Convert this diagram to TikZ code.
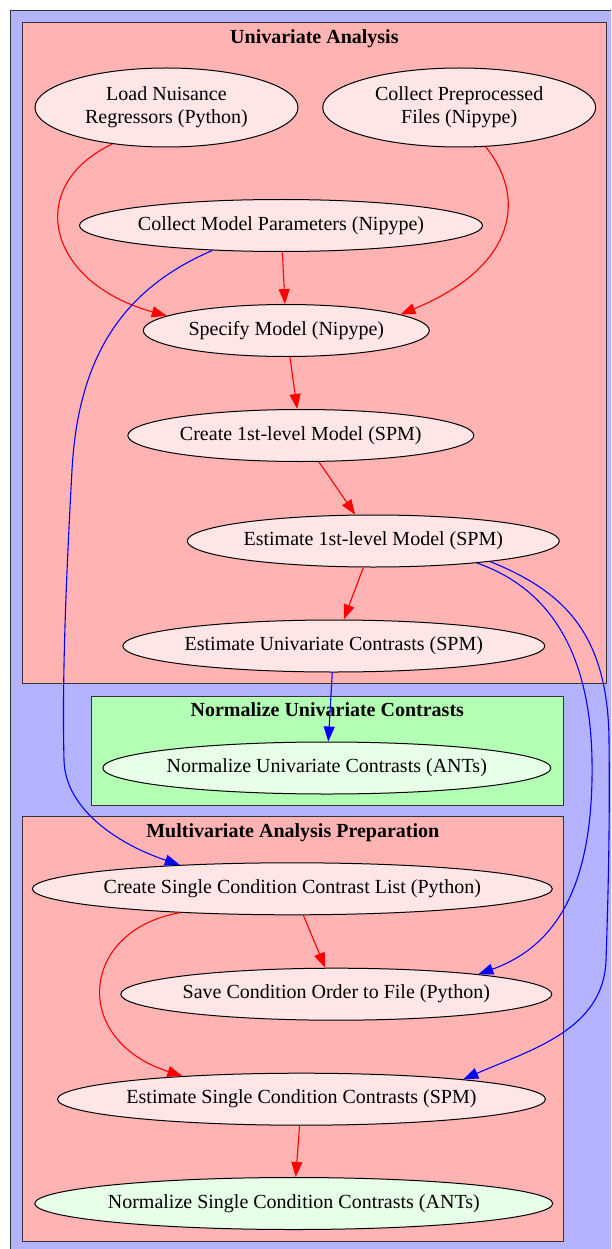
\documentclass[tikz,border=0pt]{standalone}
\usepackage{fontspec}
\setmainfont{Liberation Serif}
\usetikzlibrary{shapes.geometric,arrows.meta}
\definecolor{outerblue}{RGB}{179,179,255}
\definecolor{clpink}{RGB}{255,179,179}
\definecolor{clgreen}{RGB}{179,255,179}
\definecolor{ndpink}{RGB}{255,230,230}
\definecolor{ndgreen}{RGB}{230,255,230}
\tikzset{
  nd/.style={ellipse,draw=black,line width=1pt,fill=ndpink,inner xsep=-40pt,inner ysep=0pt,
    font=\fontsize{20}{23}\selectfont,align=center,minimum height=52pt},
  ndg/.style={nd,fill=ndgreen},
  ttl/.style={font=\bfseries\fontsize{20}{23}\selectfont,anchor=base,inner sep=0pt},
  clbox/.style={draw=black!80,line width=1pt},
  redge/.style={draw=red,line width=1.1pt,-{Triangle[length=15pt,width=11pt]}},
  bedge/.style={draw=blue,line width=1.1pt,-{Triangle[length=15pt,width=11pt]}}
}
\begin{document}
\begin{tikzpicture}[x=1pt,y=-1pt]
\useasboundingbox (0,0) rectangle (611,1249);
\clip (0,0) rectangle (611,1249);
% clusters
\path[clbox,fill=outerblue] (10,11) rectangle (700,1300);
\path[clbox,fill=clpink] (22,22.5) rectangle (606.7,683.3);
\path[clbox,fill=clgreen] (91.6,696) rectangle (563,805);
\path[clbox,fill=clpink] (22,816.7) rectangle (563.5,1241.7);
\node[ttl] (t1) at (314.4,43.3) {Univariate Analysis};
\node[ttl] (t2) at (327.3,716.7) {Normalize Univariate Contrasts};
\node[ttl] (t3) at (292.8,837) {Multivariate Analysis Preparation};
% nodes
\node[nd,minimum width=263pt,minimum height=79pt] (load) at (166.5,107.5) {Load Nuisance\\Regressors (Python)};
\node[nd,minimum width=273pt,minimum height=79pt] (coll) at (459.2,107.5) {Collect Preprocessed\\Files (Nipype)};
\node[nd,minimum width=403pt] (param) at (281,225.5) {Collect Model Parameters (Nipype)};
\node[nd,minimum width=286pt] (spec) at (286.3,330.5) {Specify Model (Nipype)};
\node[nd,minimum width=346pt] (first) at (300.8,435.5) {Create 1st-level Model (SPM)};
\node[nd,minimum width=372pt] (est1) at (373.3,541) {Estimate 1st-level Model (SPM)};
\node[nd,minimum width=422pt] (euni) at (333.8,646) {Estimate Univariate Contrasts (SPM)};
\node[ndg,minimum width=448pt] (nuni) at (326.8,768) {Normalize Univariate Contrasts (ANTs)};
\node[nd,minimum width=520pt] (list) at (292.3,888.8) {Create Single Condition Contrast List (Python)};
\node[nd,minimum width=431pt] (save) at (336.3,994.2) {Save Condition Order to File (Python)};
\node[nd,minimum width=488pt] (esing) at (301.5,1099.2) {Estimate Single Condition Contrasts (SPM)};
\node[ndg,minimum width=518pt] (nsing) at (293.8,1203.5) {Normalize Single Condition Contrasts (ANTs)};
% edges
\draw[redge] (load.214.8) .. controls (25,185) and (45,282) .. (spec.173);
\draw[redge] (coll.-56.2) .. controls (525,195) and (520,265) .. (spec.8.9);
\draw[redge] (param) -- (spec);
\draw[bedge] (param.200.25) .. controls (120,290) and (78,360) .. (72,470)
  .. controls (66,580) and (62,680) .. (64,760)
  .. controls (65,810) and (120,845) .. (list.168.7);
\draw[redge] (spec) -- (first);
\draw[redge] (first) -- (est1);
\draw[redge] (est1) -- (euni);
\draw[bedge] (euni) -- (nuni);
\draw[bedge] (est1.-12.4) .. controls (540,585) and (590,640) .. (592,760)
  .. controls (594,880) and (560,945) .. (save.8.5);
\draw[bedge] (est1.-10.6) .. controls (560,590) and (608,630) .. (609,740)
  .. controls (610,830) and (608,900) .. (606,960)
  .. controls (604,1030) and (530,1050) .. (esing.7.75);
\draw[redge] (list) -- (save);
\draw[redge] (list.192.2) .. controls (80,930) and (70,1040) .. (esing.169.4);
\draw[redge] (esing) -- (nsing);
\end{tikzpicture}
\end{document}
